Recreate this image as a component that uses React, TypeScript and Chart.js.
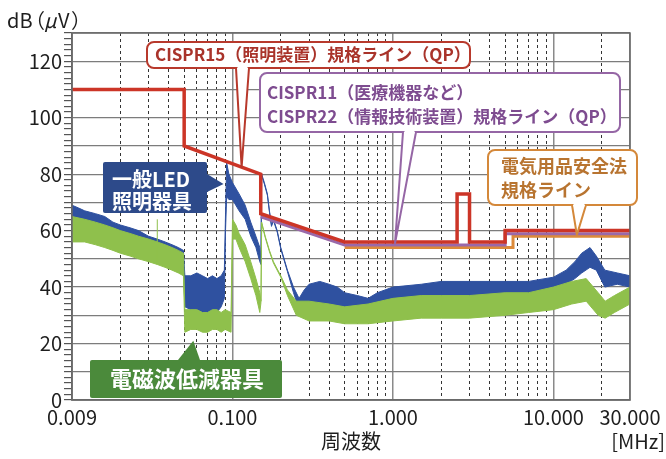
import React, { useEffect, useRef } from 'react';
import { Chart, registerables } from 'chart.js';
Chart.register(...registerables);

// ---------- axis definitions ----------
const xMin = 0.01;
const xMax = 30;
const xTickValues = [
  0.01, 0.02, 0.03, 0.04, 0.05, 0.06, 0.07, 0.08, 0.09,
  0.1, 0.2, 0.3, 0.4, 0.5, 0.6, 0.7, 0.8, 0.9,
  1, 2, 3, 4, 5, 6, 7, 8, 9,
  10, 20, 30,
];
const xLabelValues = [0.01, 0.1, 1, 10, 30];
const xLabelTexts = ['0.009', '0.100', '1.000', '10.000', '30.000'];
const yMin = 0;
const yMax = 130;
const yLabelStep = 20;
const yGridStep = 10;
const yMinorStep = 2;

// ---------- limit lines ----------
const cispr15Freq = [0.01, 0.05, 0.05, 0.15, 0.15, 0.5, 2.51, 2.51, 3.0, 3.0, 5, 5, 30];
const cispr15Level = [110, 110, 90, 80, 66, 56, 56, 73, 73, 56, 56, 60, 60];
const cispr22Freq = [0.15, 0.5, 5, 5, 30];
const cispr22Level = [64.9, 54.9, 54.9, 58.9, 58.9];
const denanFreq = [0.5, 5.6, 5.6, 30];
const denanLevel = [54, 54, 58, 58];

// ---------- measured spectra (upper / lower envelope) ----------
const ledFreq = [0.01, 0.011, 0.012, 0.014, 0.016, 0.018, 0.02, 0.023, 0.026, 0.03, 0.034, 0.038, 0.042, 0.046, 0.0495, 0.0505, 0.055, 0.06, 0.065, 0.07, 0.075, 0.08, 0.085, 0.089, 0.0905, 0.092, 0.095, 0.1, 0.11, 0.12, 0.13, 0.14, 0.148, 0.1505, 0.152, 0.158, 0.165, 0.17, 0.175, 0.18, 0.19, 0.2, 0.22, 0.24, 0.26, 0.28, 0.3, 0.35, 0.4, 0.45, 0.5, 0.6, 0.7, 0.8, 1, 1.5, 2, 3, 4, 5, 7, 10, 12, 13.6, 15, 16.9, 18.5, 20.9, 25, 30];
const ledHi = [69, 68, 67, 66, 65, 63, 62, 61, 60, 58, 57, 56, 55, 54, 53, 44, 44, 45, 44, 43, 44, 43, 44, 46, 66, 84, 80, 77, 73, 69, 63, 58, 54, 49, 80, 77, 73, 67, 62, 64, 60, 54, 46, 40, 36, 39, 41, 42, 41, 40, 38, 37, 36, 38, 40, 41, 42, 42, 42, 42, 42, 43.5, 46, 49, 52, 54, 51, 46, 45, 44];
const ledLo = [60, 60, 58, 58, 57, 55, 55, 53, 52, 51, 50, 49, 48, 47, 46, 33, 32, 32, 31, 31, 32, 31, 33, 36, 60, 72, 71, 71, 67, 64, 58, 54, 49, 48, 79.5, 76.5, 72.5, 66.5, 61.5, 63.5, 59.5, 53.5, 45.5, 38, 32, 32, 33, 34, 33, 32, 30, 28, 28, 30, 32, 34, 35, 35, 35, 36, 36, 39.5, 41, 43, 45, 47, 46, 40, 41, 40];

const emiFreq = [0.01, 0.012, 0.014, 0.016, 0.018, 0.02, 0.023, 0.026, 0.03, 0.034, 0.038, 0.042, 0.046, 0.0495, 0.0505, 0.055, 0.06, 0.065, 0.07, 0.075, 0.08, 0.085, 0.09, 0.098, 0.1, 0.105, 0.11, 0.12, 0.13, 0.14, 0.148, 0.1505, 0.152, 0.16, 0.17, 0.18, 0.2, 0.22, 0.25, 0.3, 0.4, 0.5, 0.7, 1, 1.5, 2, 3, 5, 7, 10, 13, 16, 19, 21, 24, 30];
const emiHi = [65, 64, 63, 62, 61, 60, 59, 58, 57, 56, 55, 54, 53, 52, 32, 32, 32, 31, 31, 32, 32, 31, 32, 31, 64, 62, 59, 55, 49, 43, 38, 35, 63, 58, 53, 49, 44, 39, 35, 35, 34, 33, 34, 36, 37, 37, 37, 38, 38, 40, 42, 43, 38, 35, 37, 40];
const emiLo = [56, 56, 55, 54, 53, 52, 51, 50, 49, 48, 47, 46, 45, 44, 24, 25, 25, 24, 24, 25, 25, 24, 25, 24, 57, 57, 54, 49, 43, 37, 31, 34.5, 62.5, 57.5, 52.5, 48.5, 43.5, 37, 30, 28, 28, 27, 27, 28, 29, 29, 29, 30, 31, 32, 34, 35, 30, 29, 31, 34];
const emiSpikeFreq = [0.034, 0.034];
const emiSpikeLevel = [48, 64];

// ---------- colours ----------
const RED = '#cc3527';
const PURPLE = '#9a69aa';
const ORANGE = '#dc8a3a';
const BLUE = '#2f51a0';
const GREEN = '#8fc04c';
const CJK = '"Noto Sans CJK JP", "Noto Sans", sans-serif';

type Callout = {
  kind: 'outline' | 'fill';
  color: string;
  textColor: string;
  box: [number, number, number, number];
  lines: string[];
  font: string;
  textX: number;
  baselines: number[];
  tail: { side: 'top' | 'bottom' | 'right'; a: number; b: number; tipF: number; tipV: number };
};

const callouts: Callout[] = [
  {
    kind: 'outline', color: '#b8392c', textColor: '#a9332a',
    box: [147, 42, 323, 26], lines: ['CISPR15（照明装置）規格ライン（QP）'],
    font: `bold 17px ${CJK}`, textX: 155, baselines: [61],
    tail: { side: 'bottom', a: 236, b: 249, tipF: 0.114, tipV: 82.5 },
  },
  {
    kind: 'outline', color: '#9566a5', textColor: '#7e4c90',
    box: [260, 73, 360, 59], lines: ['CISPR11（医療機器など）', 'CISPR22（情報技術装置）規格ライン（QP）'],
    font: `bold 17px ${CJK}`, textX: 267, baselines: [99, 123],
    tail: { side: 'bottom', a: 403, b: 416, tipF: 1.03, tipV: 55.5 },
  },
  {
    kind: 'outline', color: '#d4883a', textColor: '#b87430',
    box: [488, 150, 149, 55], lines: ['電気用品安全法', '規格ライン'],
    font: `bold 18px ${CJK}`, textX: 501, baselines: [173, 197],
    tail: { side: 'bottom', a: 572, b: 586, tipF: 14, tipV: 58.5 },
  },
  {
    kind: 'fill', color: '#2d4a8a', textColor: '#ffffff',
    box: [103, 162, 104, 51], lines: ['一般LED', '照明器具'],
    font: `bold 20px ${CJK}`, textX: 112, baselines: [187, 209],
    tail: { side: 'right', a: 174, b: 192, tipF: 0.088, tipV: 76.5 },
  },
  {
    kind: 'fill', color: '#4b8a3b', textColor: '#ffffff',
    box: [90, 360, 192, 38], lines: ['電磁波低減器具'],
    font: `bold 22px ${CJK}`, textX: 110, baselines: [387],
    tail: { side: 'top', a: 178, b: 200, tipF: 0.057, tipV: 21 },
  },
];

const toPts = (f: number[], v: number[]) => f.map((x, i) => ({ x, y: v[i] }));
const isSolidX = (v: number) => xLabelValues.some((t) => Math.abs(t - v) / t < 1e-6);

function drawCallout(ctx: CanvasRenderingContext2D, c: Callout, xs: any, ys: any) {
  const [bx, by, bw, bh] = c.box;
  const tx = xs.getPixelForValue(c.tail.tipF);
  const ty = ys.getPixelForValue(c.tail.tipV);
  let p1: [number, number];
  let p2: [number, number];
  if (c.tail.side === 'bottom') { p1 = [c.tail.a, by + bh]; p2 = [c.tail.b, by + bh]; }
  else if (c.tail.side === 'top') { p1 = [c.tail.a, by]; p2 = [c.tail.b, by]; }
  else { p1 = [bx + bw, c.tail.a]; p2 = [bx + bw, c.tail.b]; }
  ctx.save();
  ctx.lineJoin = 'round';
  if (c.kind === 'fill') {
    ctx.fillStyle = c.color;
    ctx.beginPath(); ctx.roundRect(bx, by, bw, bh, 2); ctx.fill();
    ctx.beginPath(); ctx.moveTo(p1[0], p1[1]); ctx.lineTo(tx, ty); ctx.lineTo(p2[0], p2[1]); ctx.closePath(); ctx.fill();
  } else {
    ctx.fillStyle = '#ffffff'; ctx.strokeStyle = c.color; ctx.lineWidth = 2;
    ctx.beginPath(); ctx.roundRect(bx, by, bw, bh, 7); ctx.fill(); ctx.stroke();
    ctx.beginPath(); ctx.moveTo(p1[0], p1[1]); ctx.lineTo(tx, ty); ctx.lineTo(p2[0], p2[1]); ctx.fill(); ctx.stroke();
    ctx.beginPath(); ctx.moveTo(p1[0] + 1.5, p1[1]); ctx.lineTo(p2[0] - 1.5, p2[1]);
    ctx.strokeStyle = '#ffffff'; ctx.lineWidth = 3; ctx.stroke();
  }
  ctx.fillStyle = c.textColor;
  ctx.font = c.font;
  ctx.textAlign = 'left';
  ctx.textBaseline = 'alphabetic';
  c.lines.forEach((t, i) => ctx.fillText(t, c.textX, c.baselines[i]));
  ctx.restore();
}

const decorPlugin = {
  id: 'decor',
  afterDatasetsDraw(chart: any) {
    const { ctx, chartArea: ca, scales } = chart;
    ctx.save();
    ctx.strokeStyle = '#6a6a6a';
    ctx.lineWidth = 1.5;
    ctx.strokeRect(ca.left, ca.top, ca.right - ca.left, ca.bottom - ca.top);
    ctx.restore();
    callouts.forEach((c) => drawCallout(ctx, c, scales.x, scales.y));
  },
  afterDraw(chart: any) {
    const { ctx, chartArea: ca } = chart;
    ctx.save();
    ctx.fillStyle = '#1e1e1e';
    ctx.textBaseline = 'alphabetic';
    // y-axis unit
    ctx.font = `20px ${CJK}`;
    ctx.textAlign = 'left';
    ctx.fillText('dB', 7, 28);
    ctx.fillText('（', 25, 28);
    ctx.font = `italic 20px ${CJK}`;
    ctx.fillText('μ', 44, 28);
    ctx.font = `20px ${CJK}`;
    ctx.fillText('V', 58, 28);
    ctx.fillText('）', 71, 28);
    // x-axis title + unit
    ctx.textAlign = 'center';
    ctx.fillText('周波数', (ca.left + ca.right) / 2, 449);
    ctx.textAlign = 'right';
    ctx.fillText('[MHz]', 665, 449);
    ctx.restore();
  },
};

export default function App() {
  const ref = useRef<HTMLCanvasElement>(null);
  useEffect(() => {
    const chart = new Chart(ref.current as HTMLCanvasElement, {
      type: 'line',
      data: {
        datasets: [
          { label: 'CISPR15', data: toPts(cispr15Freq, cispr15Level), borderColor: RED, borderWidth: 3.5, fill: false },
          { label: 'CISPR11/22', data: toPts(cispr22Freq, cispr22Level), borderColor: PURPLE, borderWidth: 3, fill: false },
          { label: '電気用品安全法', data: toPts(denanFreq, denanLevel), borderColor: ORANGE, borderWidth: 3, fill: false },
          { label: '電磁波低減器具 spike', data: toPts(emiSpikeFreq, emiSpikeLevel), borderColor: GREEN, borderWidth: 1, fill: false },
          { label: '電磁波低減器具 hi', data: toPts(emiFreq, emiHi), borderColor: GREEN, backgroundColor: GREEN, borderWidth: 1, fill: '+1' },
          { label: '電磁波低減器具 lo', data: toPts(emiFreq, emiLo), borderColor: GREEN, borderWidth: 1, fill: false },
          { label: '一般LED hi', data: toPts(ledFreq, ledHi), borderColor: BLUE, backgroundColor: BLUE, borderWidth: 1, fill: '+1' },
          { label: '一般LED lo', data: toPts(ledFreq, ledLo), borderColor: BLUE, borderWidth: 1, fill: false },
        ] as any,
      },
      options: {
        responsive: false,
        animation: false,
        devicePixelRatio: 1,
        parsing: false as any,
        elements: { point: { radius: 0 }, line: { tension: 0 } },
        layout: { padding: { left: 0, right: 36, top: 33, bottom: 0 } },
        plugins: { legend: { display: false }, tooltip: { enabled: false } },
        scales: {
          x: {
            type: 'logarithmic',
            min: xMin,
            max: xMax,
            afterBuildTicks: (s: any) => { s.ticks = xTickValues.map((v) => ({ value: v })); },
            afterFit: (s: any) => { s.height = 59; },
            grid: {
              color: (c: any) => (c.tick && isSolidX(c.tick.value) ? '#8a8a8a' : '#333333'),
              lineWidth: (c: any) => (c.tick && isSolidX(c.tick.value) ? 1.5 : 1),
              drawTicks: false,
            },
            border: {
              display: true,
              color: '#6a6a6a',
              width: 1.5,
              dash: (c: any) => (c.tick && !isSolidX(c.tick.value) ? [3, 3] : []),
            } as any,
            ticks: {
              autoSkip: false,
              maxRotation: 0,
              padding: 5,
              color: '#1e1e1e',
              font: { family: CJK, size: 20 },
              callback: (v: any) => {
                const i = xLabelValues.findIndex((t) => Math.abs(t - Number(v)) / t < 1e-6);
                return i >= 0 ? xLabelTexts[i] : '';
              },
            },
          },
          y: {
            type: 'linear',
            min: yMin,
            max: yMax,
            afterBuildTicks: (s: any) => {
              const t: any[] = [];
              for (let v = yMin; v <= yMax; v += yMinorStep) t.push({ value: v });
              s.ticks = t;
            },
            afterFit: (s: any) => { s.width = 72; },
            grid: {
              color: (c: any) => (c.tick && c.tick.value % yGridStep === 0 ? '#7c7c7c' : 'rgba(0,0,0,0)'),
              tickColor: '#555555',
              tickLength: 8,
              lineWidth: 1.2,
            },
            border: { display: true, color: '#6a6a6a', width: 1.5 },
            ticks: {
              autoSkip: false,
              padding: 2,
              color: '#1e1e1e',
              font: { family: CJK, size: 20 },
              callback: (v: any) => (Number(v) % yLabelStep === 0 ? String(v) : ''),
            },
          },
        },
      },
      plugins: [decorPlugin],
    });
    return () => chart.destroy();
  }, []);
  return (
    <div style={{ position: 'fixed', left: 0, top: 0, width: 666, height: 459, background: '#ffffff' }}>
      <canvas ref={ref} width={666} height={459} style={{ display: 'block', width: 666, height: 459 }} />
    </div>
  );
}
